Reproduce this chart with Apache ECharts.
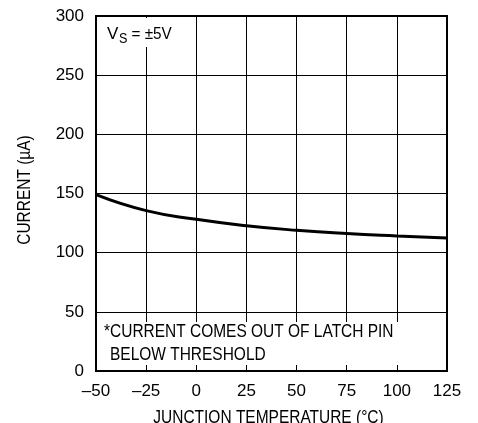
<!DOCTYPE html>
<html>
<head>
<meta charset="utf-8">
<script src="https://cdn.jsdelivr.net/npm/echarts@6/dist/echarts.min.js"></script>
<style>
html,body{margin:0;padding:0;background:#fff;}
#c{width:478px;height:423px;}
</style>
</head>
<body>
<div id="c"></div>
<script>
var temps = [-50, -25, 0, 25, 50, 75, 100, 125];
var current = [149, 135.5, 128.2, 122.8, 118.9, 116.1, 114.1, 112.4];
var xTicks = [-50, -25, 0, 25, 50, 75, 100, 125];
var yTicks = [0, 50, 100, 150, 200, 250, 300];
var xTitle = 'JUNCTION TEMPERATURE (\u00B0C)';
var yTitle = 'CURRENT (\u00B5A)';
var noteLines = ['*CURRENT COMES OUT OF LATCH PIN', 'BELOW THRESHOLD'];

var FONT = '"Liberation Sans", Arial, sans-serif';
var chart = echarts.init(document.getElementById('c'), null, {renderer: 'canvas'});
function fmt(v){ return v < 0 ? '\u2013' + Math.abs(v) : String(v); }
var SX = 0.86;
var option = {
  animation: false,
  backgroundColor: '#fff',
  grid: {left: 96, right: 31, top: 16, bottom: 52, show: true, borderColor: '#000', borderWidth: 2, backgroundColor: 'transparent'},
  xAxis: {
    type: 'value', min: xTicks[0], max: xTicks[xTicks.length-1], interval: 25,
    axisLine: {show: false}, axisTick: {show: false},
    axisLabel: {fontFamily: FONT, fontSize: 17, color: '#000', margin: 12, formatter: fmt},
    splitLine: {show: true, lineStyle: {color: '#000', width: 1}}
  },
  yAxis: {
    type: 'value', min: yTicks[0], max: yTicks[yTicks.length-1], interval: 50,
    axisLine: {show: false}, axisTick: {show: false},
    axisLabel: {fontFamily: FONT, fontSize: 17, color: '#000', margin: 12, formatter: fmt},
    splitLine: {show: true, lineStyle: {color: '#000', width: 1}}
  },
  graphic: [
    {type: 'text', z: 2, x: 268.5, y: 418.5, scaleX: SX, style: {text: xTitle, font: '18px ' + FONT, fill: '#000', align: 'center', verticalAlign: 'middle'}},
    {type: 'text', z: 2, x: 25.5, y: 190, rotation: Math.PI / 2, scaleX: SX, style: {text: yTitle, font: '18px ' + FONT, fill: '#000', align: 'center', verticalAlign: 'middle'}},
    {type: 'rect', z: 1, shape: {x: 98, y: 18, width: 80, height: 29}, style: {fill: '#fff'}},
    {type: 'text', z: 2, x: 107, y: 34.5, style: {text: 'V', font: '17px ' + FONT, fill: '#000', verticalAlign: 'middle'}},
    {type: 'text', z: 2, x: 119, y: 39, scaleX: 0.9, style: {text: 'S', font: '14px ' + FONT, fill: '#000', verticalAlign: 'middle'}},
    {type: 'text', z: 2, x: 131.5, y: 34.5, scaleX: 0.9, style: {text: '= \u00B15V', font: '17px ' + FONT, fill: '#000', verticalAlign: 'middle'}},
    {type: 'rect', z: 1, shape: {x: 98, y: 322, width: 347, height: 43}, style: {fill: '#fff'}},
    {type: 'text', z: 2, x: 104, y: 332.5, scaleX: SX, style: {text: noteLines[0], font: '18px ' + FONT, fill: '#000', verticalAlign: 'middle'}},
    {type: 'text', z: 2, x: 110, y: 355.5, scaleX: SX, style: {text: noteLines[1], font: '18px ' + FONT, fill: '#000', verticalAlign: 'middle'}}
  ],
  series: [{
    type: 'line', data: temps.map(function(t, i){ return [t, current[i]]; }),
    smooth: true, symbol: 'none', z: 5,
    lineStyle: {color: '#000', width: 3}
  }]
};
chart.setOption(option);
</script>
</body>
</html>
